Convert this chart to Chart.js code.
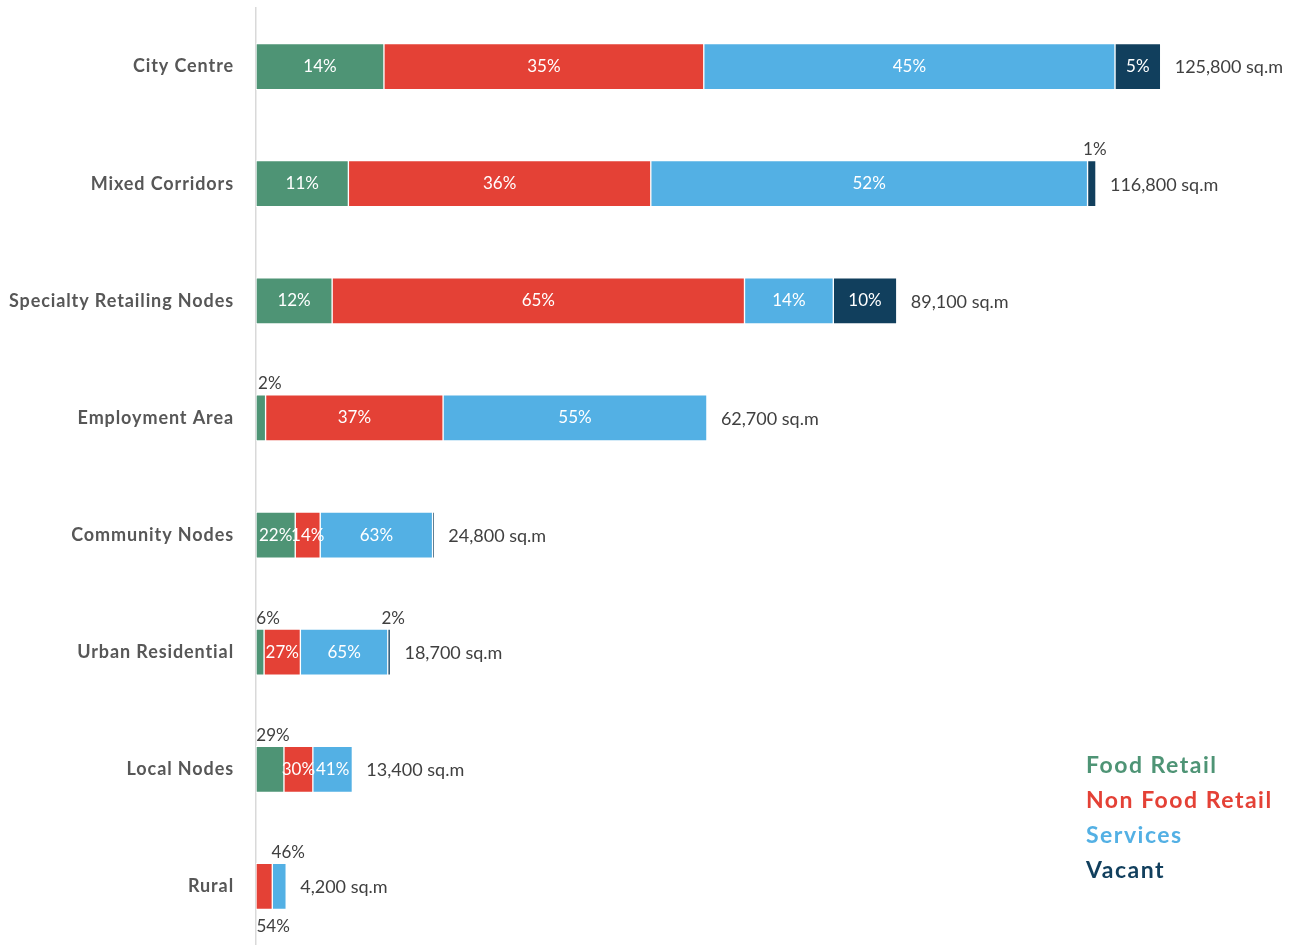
<!DOCTYPE html>
<html>
<head>
<meta charset="utf-8">
<script src="https://cdn.jsdelivr.net/npm/chart.js@4/dist/chart.umd.min.js"></script>
<style>
  html, body { margin: 0; padding: 0; background: #ffffff; }
  #wrap { width: 1290px; height: 945px; position: relative; }
</style>
</head>
<body>
<div id="wrap"><canvas id="c"></canvas></div>
<script>
// ---- data ----
const categories = ["City Centre", "Mixed Corridors", "Specialty Retailing Nodes", "Employment Area",
                    "Community Nodes", "Urban Residential", "Local Nodes", "Rural"];
const totals      = [125800, 116800, 89100, 62700, 24800, 18700, 13400, 4200];
const foodPct     = [14, 11, 12, 2, 22, 6, 29, 0];
const nonFoodPct  = [35, 36, 65, 37, 14, 27, 30, 54];
const servicesPct = [45, 52, 14, 55, 63, 65, 41, 46];
const vacantPct   = [5, 1, 10, 0, 1, 2, 0, 0];
const seriesNames = ["Food Retail", "Non Food Retail", "Services", "Vacant"];

// ---- styling ----
const colors = ["#4E9475", "#E44136", "#53B0E4", "#113F5D"];
const FONT = "Lato, 'Open Sans', sans-serif";
// label placement for segments whose label is not inside: [mode, x offset]
const placement = {
  "0:3": ["above", 9], "3:1": ["above", 3],
  "0:5": ["above", 8], "3:5": ["above", 4],
  "0:6": ["above", 3],
  "2:7": ["above", 9], "1:7": ["below", 9],
  "3:4": ["hide", 0]
};

const pctSeries = [foodPct, nonFoodPct, servicesPct, vacantPct];
const sums = totals.map((t, i) => pctSeries.reduce((s, arr) => s + arr[i], 0));
const datasets = pctSeries.map((arr, k) => ({
  label: seriesNames[k],
  data: arr.map((p, i) => totals[i] * p / sums[i]),
  pct: arr,
  backgroundColor: colors[k],
  borderColor: "#ffffff",
  borderWidth: 1,
  borderSkipped: false,
  barThickness: 46
}));

const spacingPlugin = {
  id: "spacing",
  beforeDraw(chart) { chart.ctx.letterSpacing = "0.9px"; },
  beforeDatasetsDraw(chart) { chart.ctx.letterSpacing = "0px"; }
};

const labelPlugin = {
  id: "labels",
  afterDatasetsDraw(chart) {
    const ctx = chart.ctx;
    ctx.save();
    ctx.letterSpacing = "0px";
    ctx.textBaseline = "middle";
    chart.data.datasets.forEach((ds, k) => {
      const meta = chart.getDatasetMeta(k);
      meta.data.forEach((el, i) => {
        const p = ds.pct[i];
        if (!p) return;
        const key = k + ":" + i;
        const place = placement[key] || ["in", 0];
        if (place[0] === "hide") return;
        const left = Math.min(el.base, el.x), right = Math.max(el.base, el.x);
        const cx = (left + right) / 2 + place[1];
        const txt = p + "%";
        ctx.font = "17px " + FONT;
        ctx.textAlign = "center";
        if (place[0] === "in") {
          ctx.fillStyle = "#ffffff";
          ctx.fillText(txt, cx, el.y);
        } else if (place[0] === "above") {
          ctx.fillStyle = "#404040";
          ctx.fillText(txt, cx, el.y - el.height / 2 - 11);
        } else {
          ctx.fillStyle = "#404040";
          ctx.fillText(txt, cx, el.y + el.height / 2 + 17);
        }
      });
    });
    // totals
    const last = chart.getDatasetMeta(chart.data.datasets.length - 1);
    ctx.font = "18px " + FONT;
    ctx.textAlign = "left";
    ctx.fillStyle = "#404040";
    totals.forEach((t, i) => {
      const xEnd = chart.scales.x.getPixelForValue(t);
      const y = last.data[i].y;
      ctx.fillText(t.toLocaleString("en-US") + " sq.m", xEnd + 14, y + 1);
    });
    // legend
    ctx.font = "bold 23px " + FONT;
    ctx.letterSpacing = "1.5px";
    ctx.textAlign = "left";
    chart.data.datasets.forEach((ds, k) => {
      ctx.fillStyle = ds.backgroundColor;
      ctx.fillText(ds.label, 1086, 766 + k * 35);
    });
    ctx.restore();
  }
};

new Chart(document.getElementById("c"), {
  type: "bar",
  data: { labels: categories, datasets: datasets },
  options: {
    indexAxis: "y",
    responsive: true,
    maintainAspectRatio: false,
    animation: false,
    layout: { padding: { top: 8, right: 20, bottom: -3, left: 0 } },
    plugins: { legend: { display: false }, tooltip: { enabled: false } },
    scales: {
      x: { stacked: true, display: false, min: 0, max: 141000 },
      y: {
        stacked: true,
        grid: { display: false, drawTicks: false },
        border: { display: true, color: "#d9d9d9", width: 1.5 },
        ticks: { color: "#575757", padding: 22, font: { family: FONT, size: 18, weight: "bold" } },
        afterFit(scale) { scale.width = 256; scale.paddingTop = 0; scale.paddingBottom = 0; }
      }
    }
  },
  plugins: [spacingPlugin, labelPlugin]
});
</script>
</body>
</html>
